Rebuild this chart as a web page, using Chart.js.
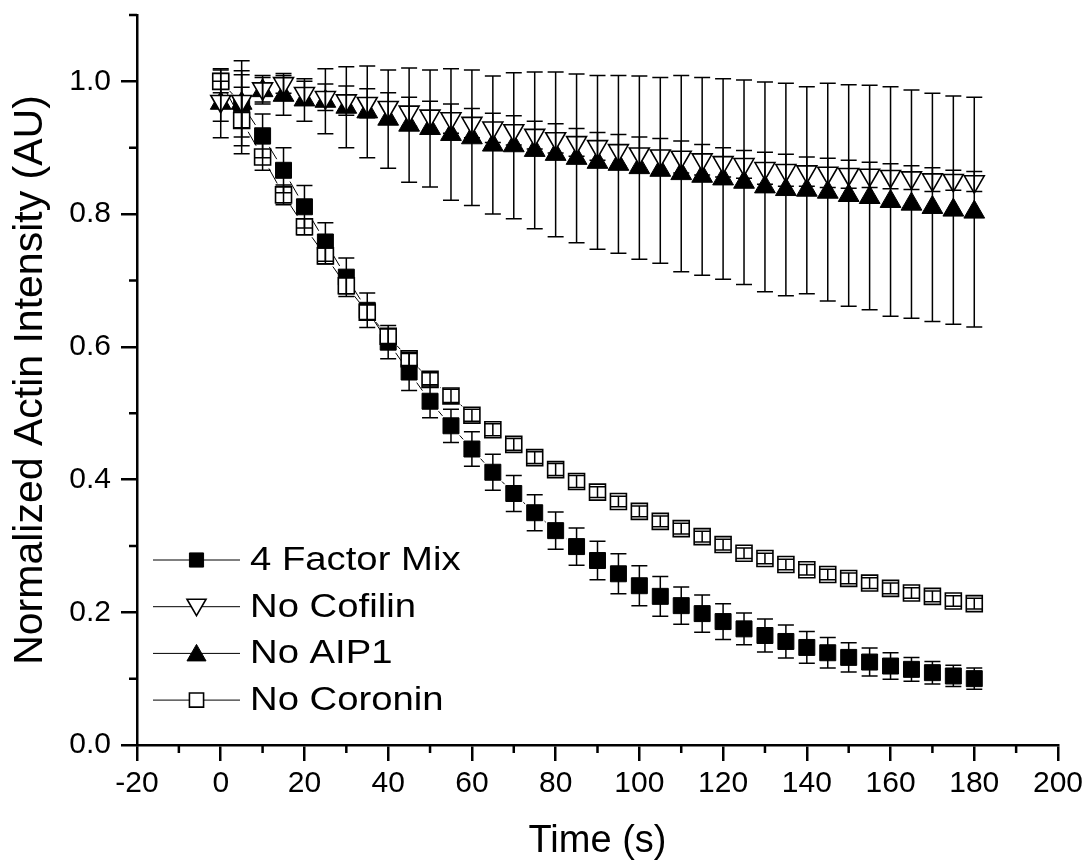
<!DOCTYPE html>
<html>
<head>
<meta charset="utf-8">
<script src="https://cdn.jsdelivr.net/npm/chart.js@4.4.0/dist/chart.umd.min.js"></script>
<style>
    html, body { margin: 0; padding: 0; background: #fff; }
    #wrap { width: 1084px; height: 863px; }
</style>
</head>
<body>
<div id="wrap"><canvas id="actinChart" width="1084" height="863"></canvas></div>
<script>
// --- Data (time in s, intensity normalized) ---
const timePoints = [0, 5, 10, 15, 20, 25, 30, 35, 40, 45, 50, 55, 60, 65, 70, 75, 80, 85, 90,
    95, 100, 105, 110, 115, 120, 125, 130, 135, 140, 145, 150, 155, 160, 165, 170, 175, 180];

const factorMix = [1.0, 0.966, 0.918, 0.866, 0.811, 0.758, 0.705, 0.655, 0.607, 0.562, 0.518, 0.481,
    0.446, 0.411, 0.379, 0.350, 0.323, 0.299, 0.278, 0.258, 0.240, 0.224, 0.210, 0.198, 0.186,
    0.175, 0.165, 0.156, 0.147, 0.139, 0.132, 0.125, 0.119, 0.114, 0.109, 0.104, 0.100];
const factorMixErr = [0, 0.05, 0.033, 0.034, 0.032, 0.029, 0.029, 0.026, 0.025, 0.028, 0.025, 0.025,
    0.026, 0.027, 0.027, 0.027, 0.028, 0.028, 0.029, 0.030, 0.030, 0.030, 0.028, 0.028, 0.027,
    0.024, 0.025, 0.025, 0.024, 0.023, 0.022, 0.021, 0.020, 0.018, 0.017, 0.016, 0.016];

const noCofilin = [0.970, 0.970, 0.989, 0.997, 0.982, 0.976, 0.971, 0.967, 0.961, 0.954, 0.948, 0.944,
    0.937, 0.930, 0.926, 0.919, 0.914, 0.908, 0.902, 0.896, 0.891, 0.888, 0.886, 0.882, 0.878,
    0.875, 0.869, 0.866, 0.864, 0.862, 0.860, 0.859, 0.857, 0.855, 0.852, 0.851, 0.849];
const noCofilinErr = [0.03, 0.04, 0.02, 0.015, 0.018, 0.02, 0.022, 0.022, 0.022, 0.022, 0.022, 0.022,
    0.022, 0.022, 0.022, 0.021, 0.022, 0.021, 0.021, 0.024, 0.025, 0.026, 0.024, 0.023, 0.022,
    0.021, 0.024, 0.024, 0.022, 0.022, 0.021, 0.019, 0.019, 0.018, 0.018, 0.015, 0.015];

const noAIP1 = [0.967, 0.967, 0.986, 0.979, 0.972, 0.970, 0.961, 0.954, 0.943, 0.934, 0.929, 0.920,
    0.915, 0.904, 0.903, 0.896, 0.890, 0.884, 0.878, 0.875, 0.870, 0.866, 0.861, 0.857, 0.853,
    0.848, 0.841, 0.837, 0.836, 0.833, 0.828, 0.825, 0.819, 0.815, 0.810, 0.806, 0.803];
const noAIP1Err = [0.052, 0.064, 0.02, 0.03, 0.032, 0.049, 0.061, 0.069, 0.074, 0.086, 0.088, 0.099,
    0.102, 0.104, 0.110, 0.118, 0.124, 0.127, 0.131, 0.134, 0.138, 0.140, 0.148, 0.149, 0.151,
    0.154, 0.158, 0.160, 0.156, 0.164, 0.167, 0.169, 0.173, 0.172, 0.172, 0.172, 0.173];

const noCoronin = [1.0, 0.941, 0.886, 0.829, 0.781, 0.737, 0.692, 0.652, 0.616, 0.582, 0.551, 0.526,
    0.497, 0.475, 0.453, 0.433, 0.415, 0.397, 0.381, 0.367, 0.352, 0.337, 0.326, 0.314, 0.302,
    0.289, 0.281, 0.272, 0.264, 0.257, 0.251, 0.244, 0.236, 0.229, 0.224, 0.217, 0.213];
const noCoroninErr = [0.017, 0.05, 0.02, 0.015, 0.012, 0.012, 0.012, 0.011, 0.011, 0.01, 0.01, 0.01,
    0.009, 0.009, 0.009, 0.009, 0.009, 0.009, 0.008, 0.008, 0.008, 0.008, 0.008, 0.008, 0.008,
    0.008, 0.008, 0.008, 0.008, 0.008, 0.008, 0.008, 0.008, 0.008, 0.008, 0.008, 0.008];

const seriesLabels = ["4 Factor Mix", "No Cofilin", "No AIP1", "No Coronin"];
const seriesValues = [factorMix, noCofilin, noAIP1, noCoronin];
const seriesErrors = [factorMixErr, noCofilinErr, noAIP1Err, noCoroninErr];

const xRange = [-20, 200], xStep = 20;
const yRange = [0, 1.1], yStep = 0.2;

const FONT = "'Liberation Sans', Arial, sans-serif";

// marker look per series (square / down triangle / up triangle / open square)
// order: lower is drawn on top, so the open squares sit over the filled ones
const markers = [
    { pointStyle: "rect", rotation: 0, radius: 11.3, fill: "#000", border: 1, order: 3 },
    { pointStyle: "triangle", rotation: 180, radius: 11.5, fill: "#fff", border: 1.6, order: 1 },
    { pointStyle: "triangle", rotation: 0, radius: 12, fill: "#000", border: 1, order: 2 },
    { pointStyle: "rect", rotation: 0, radius: 11.3, fill: "#fff", border: 1.6, order: 0 }
];

// --- Connecting lines (with gaps at the symbols) under the markers, error bars over them ---
const errorBarPlugin = {
    id: "errorBars",
    beforeDatasetsDraw(chart) {
        const { ctx } = chart;
        ctx.save();
        ctx.strokeStyle = "#000";
        ctx.lineWidth = 1;
        chart.data.datasets.forEach((ds, i) => {
            const pts = chart.getDatasetMeta(i).data;
            const gap = 13;
            for (let k = 1; k < pts.length; k++) {
                const a = pts[k - 1], b = pts[k];
                const dx = b.x - a.x, dy = b.y - a.y;
                const len = Math.hypot(dx, dy);
                if (len <= 2 * gap) continue;
                const ux = dx / len, uy = dy / len;
                ctx.beginPath();
                ctx.moveTo(a.x + ux * gap, a.y + uy * gap);
                ctx.lineTo(b.x - ux * gap, b.y - uy * gap);
                ctx.stroke();
            }
        });
        ctx.restore();
    },
    afterDatasetsDraw(chart) {
        const { ctx, scales: { x, y } } = chart;
        ctx.save();
        ctx.strokeStyle = "#000";
        ctx.lineWidth = 1.5;
        chart.data.datasets.forEach((ds, i) => {
            seriesErrors[i].forEach((e, k) => {
                if (!e) return;
                const p = ds.data[k];
                const px = x.getPixelForValue(p.x);
                const top = y.getPixelForValue(p.y + e);
                const bot = y.getPixelForValue(p.y - e);
                ctx.beginPath();
                ctx.moveTo(px, top); ctx.lineTo(px, bot);
                ctx.moveTo(px - 8, top); ctx.lineTo(px + 8, top);
                ctx.moveTo(px - 8, bot); ctx.lineTo(px + 8, bot);
                ctx.stroke();
            });
        });
        ctx.restore();
    }
};

// --- Minor ticks halfway between the major ones ---
const minorTickPlugin = {
    id: "minorTicks",
    afterDraw(chart) {
        const { ctx, chartArea, scales: { x, y } } = chart;
        ctx.save();
        ctx.strokeStyle = "#000";
        ctx.lineWidth = 2.5;
        ctx.beginPath();
        x.ticks.forEach(t => {
            const v = t.value + xStep / 2;
            if (v > xRange[1] + 1e-9) return;
            const px = x.getPixelForValue(v);
            ctx.moveTo(px, chartArea.bottom);
            ctx.lineTo(px, chartArea.bottom + 8);
        });
        y.ticks.forEach(t => {
            const v = t.value + yStep / 2;
            if (v > yRange[1] + 1e-9) return;
            const py = y.getPixelForValue(v);
            ctx.moveTo(chartArea.left, py);
            ctx.lineTo(chartArea.left - 8, py);
        });
        ctx.stroke();
        ctx.restore();
    }
};

// --- Legend inside the plot, bottom left ---
function drawMarker(ctx, m, cx, cy, r) {
    ctx.beginPath();
    if (m.pointStyle === "rect") {
        const h = r * Math.SQRT1_2;
        ctx.rect(cx - h, cy - h, 2 * h, 2 * h);
    } else {
        const dir = m.rotation ? -1 : 1;
        ctx.moveTo(cx, cy - dir * r);
        ctx.lineTo(cx + r * Math.sin(Math.PI / 3), cy + dir * r / 2);
        ctx.lineTo(cx - r * Math.sin(Math.PI / 3), cy + dir * r / 2);
        ctx.closePath();
    }
    ctx.fillStyle = m.fill;
    ctx.fill();
    ctx.lineWidth = m.border;
    ctx.stroke();
}

const legendPlugin = {
    id: "insideLegend",
    afterDraw(chart) {
        const { ctx, chartArea } = chart;
        const x0 = chartArea.left + 16, lineLen = 87, rowH = 46.7;
        const y0 = chartArea.bottom - 185;
        ctx.save();
        ctx.strokeStyle = "#000";
        seriesLabels.forEach((label, i) => {
            const cy = y0 + i * rowH;
            ctx.lineWidth = 1;
            ctx.beginPath();
            ctx.moveTo(x0, cy); ctx.lineTo(x0 + lineLen, cy);
            ctx.stroke();
            const m = markers[i];
            drawMarker(ctx, m, x0 + lineLen / 2, cy + (m.pointStyle === "triangle" ? (m.rotation ? -2 : 2) : 0), m.pointStyle === "rect" ? 10 : 11);
            ctx.save();
            ctx.translate(x0 + lineLen + 10, cy);
            ctx.scale(1.16, 1);
            ctx.fillStyle = "#000";
            ctx.font = "33px " + FONT;
            ctx.textBaseline = "middle";
            ctx.fillText(label, 0, 1);
            ctx.restore();
        });
        ctx.restore();
    }
};

const datasets = seriesLabels.map((label, i) => ({
    label: label,
    data: timePoints.map((t, k) => ({ x: t, y: seriesValues[i][k] })),
    order: markers[i].order,
    showLine: false,
    pointStyle: markers[i].pointStyle,
    rotation: markers[i].rotation,
    radius: markers[i].radius,
    hoverRadius: markers[i].radius,
    backgroundColor: markers[i].fill,
    borderColor: "#000",
    borderWidth: markers[i].border
}));

new Chart(document.getElementById("actinChart"), {
    type: "scatter",
    data: { datasets },
    plugins: [errorBarPlugin, minorTickPlugin, legendPlugin],
    options: {
        responsive: false,
        devicePixelRatio: 1,
        animation: false,
        layout: { padding: { left: 0, right: 26, top: 15, bottom: 0 } },
        plugins: { legend: { display: false }, tooltip: { enabled: false } },
        scales: {
            x: {
                type: "linear",
                min: xRange[0], max: xRange[1],
                afterFit: s => { s.height = 118; s.paddingLeft = 0; s.paddingRight = 0; },
                border: { display: true, color: "#000", width: 2.5 },
                grid: { drawOnChartArea: false, drawTicks: true, tickLength: 16, tickWidth: 2.5, tickColor: "#000", lineWidth: 2.5 },
                ticks: { stepSize: xStep, color: "#000", padding: 5, maxRotation: 0, font: { family: FONT, size: 30 } },
                title: { display: true, text: "Time (s)", color: "#000", padding: { top: 0, bottom: 2 }, font: { family: FONT, size: 38, lineHeight: 1 } }
            },
            y: {
                type: "linear",
                min: yRange[0], max: yRange[1],
                afterFit: s => { s.width = 137; s.paddingTop = 0; s.paddingBottom = 0; },
                border: { display: true, color: "#000", width: 2.5 },
                grid: { drawOnChartArea: false, drawTicks: true, tickLength: 16, tickWidth: 2.5, tickColor: "#000", lineWidth: 2.5 },
                ticks: { stepSize: yStep, includeBounds: false, color: "#000", padding: 10, font: { family: FONT, size: 30 },
                    callback: v => v.toFixed(1) },
                title: { display: true, text: "Normalized Actin Intensity (AU)", color: "#000", padding: { top: 10, bottom: 0 }, font: { family: FONT, size: 41, lineHeight: 1 } }
            }
        }
    }
});
</script>
</body>
</html>
